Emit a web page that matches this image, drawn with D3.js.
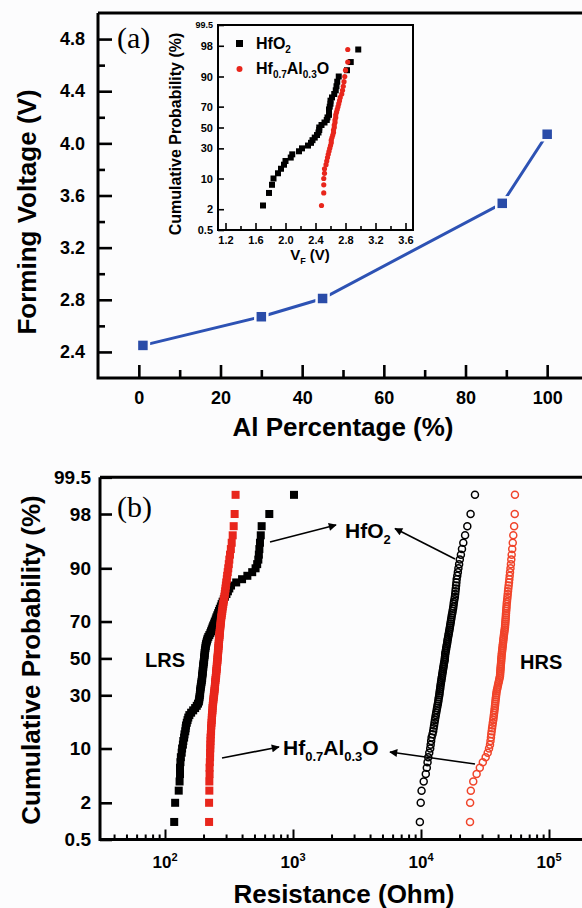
<!DOCTYPE html>
<html>
<head>
<meta charset="utf-8">
<script src="https://cdn.jsdelivr.net/npm/d3@7"></script>
<style>
body { margin: 0; background: #fcfcfd; }
svg { display: block; font-family: "Liberation Sans", Arial, sans-serif; font-weight: bold; }
</style>
</head>
<body>
<svg id="fig" width="582" height="908"></svg>
<script>
// ---- panel (a): forming voltage vs Al percentage
const alPercent = [1, 30, 45, 89, 100];
const formingVoltage = [2.45, 2.67, 2.81, 3.54, 4.07];

// ---- inset: forming voltage distributions (V)
const insetHfO2 = [1.70, 1.78, 1.82, 1.84, 1.90, 1.94, 1.98, 2.00, 2.07, 2.09,
  2.18, 2.22, 2.30, 2.34, 2.36, 2.39, 2.42, 2.44, 2.45, 2.45,
  2.48, 2.52, 2.55, 2.56, 2.58, 2.58, 2.58, 2.59, 2.60, 2.60,
  2.62, 2.65, 2.67, 2.68, 2.69, 2.71, 2.82, 2.87, 2.97];
const insetHfAlO = [2.48, 2.51, 2.51, 2.51, 2.52, 2.52, 2.54, 2.55, 2.56, 2.57,
  2.58, 2.59, 2.60, 2.61, 2.61, 2.62, 2.63, 2.64, 2.64, 2.65,
  2.65, 2.66, 2.66, 2.67, 2.67, 2.68, 2.69, 2.70, 2.71, 2.72,
  2.73, 2.75, 2.76, 2.77, 2.78, 2.79, 2.80, 2.83, 2.83];

// ---- panel (b): resistance distributions (Ohm)
const lrsHfO2 = [118, 120, 128, 130, 131, 131, 132, 133, 135, 136,
  138, 139, 141, 142, 144, 145, 146, 148, 150, 152,
  155, 160, 166, 172, 177, 181, 184, 185, 186, 187,
  188, 188, 189, 190, 191, 192, 193, 194, 195, 195,
  196, 197, 197, 198, 199, 199, 200, 201, 202, 202,
  203, 204, 204, 205, 206, 207, 208, 209, 211, 213,
  215, 218, 222, 226, 229, 232, 235, 238, 242, 245,
  249, 252, 256, 260, 264, 268, 273, 277, 282, 288,
  294, 302, 310, 318, 328, 360, 400, 440, 480, 510,
  525, 536, 541, 546, 552, 560, 569, 653, 1018];
const lrsHfAlO = [221, 221, 222, 222, 223, 223, 224, 225, 225, 226,
  226, 227, 227, 228, 229, 229, 230, 231, 232, 232,
  233, 234, 235, 235, 236, 237, 238, 239, 240, 241,
  242, 243, 244, 245, 246, 246, 247, 248, 249, 250,
  251, 251, 252, 253, 254, 254, 255, 256, 257, 257,
  258, 259, 259, 260, 261, 261, 262, 263, 263, 264,
  265, 266, 267, 267, 268, 269, 270, 271, 272, 273,
  274, 275, 277, 278, 280, 281, 283, 285, 287, 289,
  291, 293, 295, 297, 299, 301, 304, 306, 309, 312,
  315, 318, 322, 327, 332, 338, 344, 350, 356];
const hrsHfO2 = [9800, 9950, 10100, 10500, 10900, 11100, 11250, 11400, 11600, 11800,
  11900, 12000, 12100, 12300, 12450, 12550, 12650, 12750, 12850, 12950,
  13050, 13150, 13250, 13350, 13450, 13550, 13650, 13700, 13800, 13900,
  13950, 14000, 14100, 14150, 14200, 14300, 14350, 14450, 14500, 14600,
  14650, 14750, 14800, 14900, 14950, 15050, 15100, 15200, 15300, 15350,
  15400, 15450, 15500, 15600, 15700, 15750, 15850, 15950, 16050, 16100,
  16200, 16300, 16400, 16500, 16600, 16700, 16800, 16900, 17000, 17100,
  17200, 17300, 17400, 17550, 17650, 17800, 17900, 18000, 18100, 18250,
  18400, 18500, 18600, 18700, 18800, 18900, 19000, 19200, 19400, 19600,
  19850, 20100, 20500, 20900, 21400, 22100, 23000, 24400, 26400];
const hrsHfAlO = [24150, 24200, 24500, 25600, 27200, 28800, 30400, 32000, 33200, 34000,
  34600, 34900, 35200, 35400, 35650, 35900, 36150, 36400, 36700, 36900,
  37100, 37300, 37500, 37700, 37850, 38000, 38150, 38300, 38500, 38650,
  38800, 39000, 39300, 39600, 39900, 40200, 40500, 40800, 41100, 41400,
  41500, 41600, 41700, 41800, 41900, 42000, 42150, 42250, 42350, 42450,
  42550, 42700, 42850, 43000, 43150, 43300, 43450, 43600, 43800, 43950,
  44100, 44250, 44450, 44650, 44850, 45050, 45300, 45400, 45550, 45650,
  45800, 45900, 46050, 46150, 46300, 46450, 46600, 46740, 46950, 47150,
  47400, 47600, 47850, 48100, 48400, 48700, 49000, 49300, 49600, 50000,
  50400, 50750, 51100, 51600, 52100, 52600, 53400, 54000, 54200];

// tick labels
const voltTicks = [2.4, 2.8, 3.2, 3.6, 4.0, 4.4, 4.8];
const alTicks = [0, 20, 40, 60, 80, 100];
const probTicks = [0.5, 2, 10, 30, 50, 70, 90, 98, 99.5];
const vfTicks = [1.2, 1.6, 2.0, 2.4, 2.8, 3.2, 3.6];
const decadeTicks = [1e2, 1e3, 1e4, 1e5];

const RED = "#e8261c", BLUE = "#2d52b4";

// inverse normal cdf (Acklam), used for the probability axes
function probit(p) {
  const a = [-3.969683028665376e+01, 2.209460984245205e+02, -2.759285104469687e+02, 1.383577518672690e+02, -3.066479806614716e+01, 2.506628277459239e+00];
  const b = [-5.447609879822406e+01, 1.615858368580409e+02, -1.556989798598866e+02, 6.680131188771972e+01, -1.328068155288572e+01];
  const c = [-7.784894002430293e-03, -3.223964580411365e-01, -2.400758277161838e+00, -2.549732539343734e+00, 4.374664141464968e+00, 2.938163982698783e+00];
  const d = [7.784695709041462e-03, 3.224671290700398e-01, 2.445134137142996e+00, 3.754408661907416e+00];
  let q, r;
  if (p < 0.02425) {
    q = Math.sqrt(-2 * Math.log(p));
    return (((((c[0]*q+c[1])*q+c[2])*q+c[3])*q+c[4])*q+c[5]) / ((((d[0]*q+d[1])*q+d[2])*q+d[3])*q+1);
  }
  if (p > 1 - 0.02425) {
    q = Math.sqrt(-2 * Math.log(1 - p));
    return -(((((c[0]*q+c[1])*q+c[2])*q+c[3])*q+c[4])*q+c[5]) / ((((d[0]*q+d[1])*q+d[2])*q+d[3])*q+1);
  }
  q = p - 0.5; r = q * q;
  return (((((a[0]*r+a[1])*r+a[2])*r+a[3])*r+a[4])*r+a[5])*q / (((((b[0]*r+b[1])*r+b[2])*r+b[3])*r+b[4])*r+1);
}
const zMax = probit(0.995);

// rank -> cumulative probability pairs
function cumulative(values) {
  return values.map((v, i) => ({ v: v, z: probit((i + 1) / (values.length + 1)) }));
}

function cleanAxis(g, fontSize, width) {
  g.attr("font-family", null).attr("font-size", null);
  g.select(".domain").remove();
  g.selectAll(".tick line").attr("stroke", "#000").attr("stroke-width", width);
  g.selectAll(".tick text").attr("fill", "#000").attr("font-size", fontSize);
}

const svg = d3.select("#fig");
svg.append("rect").attr("width", 582).attr("height", 908).attr("fill", "#fcfcfd");

// ================= panel (a) =================
const xA = d3.scaleLinear().domain([-10, 110]).range([98, 588]);
const yA = d3.scaleLinear().domain([2.2, 5.0]).range([378, 13]);
const gA = svg.append("g");

gA.append("g").attr("transform", "translate(0,378)")
  .call(d3.axisBottom(xA).tickValues([10, 30, 50, 70, 90]).tickSize(-8).tickFormat(""))
  .call(g => cleanAxis(g, 18, 2.6));
gA.append("g").attr("transform", "translate(0,378)")
  .call(d3.axisBottom(xA).tickValues(alTicks).tickSize(-13).tickPadding(13).tickFormat(d3.format("d")))
  .call(g => cleanAxis(g, 18, 2.6));
gA.append("g").attr("transform", "translate(98,0)")
  .call(d3.axisLeft(yA).tickValues([2.6, 3.0, 3.4, 3.8, 4.2, 4.6]).tickSize(-7).tickFormat(""))
  .call(g => cleanAxis(g, 18, 2.6));
gA.append("g").attr("transform", "translate(98,0)")
  .call(d3.axisLeft(yA).tickValues(voltTicks).tickSize(-14).tickPadding(13).tickFormat(d3.format(".1f")))
  .call(g => cleanAxis(g, 18, 2.6));

gA.append("path").attr("d", "M98,13H590M98,13V378H590")
  .attr("fill", "none").attr("stroke", "#000").attr("stroke-width", 3);

const lineA = d3.line().x(d => xA(d[0])).y(d => yA(d[1]));
gA.append("path").datum(d3.zip(alPercent, formingVoltage))
  .attr("d", lineA).attr("fill", "none").attr("stroke", BLUE).attr("stroke-width", 3);
gA.selectAll(".pa").data(d3.zip(alPercent, formingVoltage)).join("rect")
  .attr("x", d => xA(d[0]) - 6).attr("y", d => yA(d[1]) - 6)
  .attr("width", 12).attr("height", 12)
  .attr("fill", "#2a4ca8").attr("stroke", "#fcfcfd").attr("stroke-width", 2.5);

gA.append("text").attr("x", 343).attr("y", 436).attr("text-anchor", "middle")
  .attr("font-size", 26).text("Al Percentage (%)");
gA.append("text").attr("transform", "translate(36,212) rotate(-90)").attr("text-anchor", "middle")
  .attr("font-size", 26).text("Forming Voltage (V)");
gA.append("text").attr("x", 117).attr("y", 48).attr("font-size", 30)
  .attr("font-family", "'Liberation Serif', 'Times New Roman', serif").attr("font-weight", "normal")
  .text("(a)");

// ================= inset =================
const xI = d3.scaleLinear().domain([1.1, 3.7]).range([218, 413]);
const yI = d3.scaleLinear().domain([-zMax, zMax]).range([230, 25]);
const gI = svg.append("g");

gI.append("g").attr("transform", "translate(0,230)")
  .call(d3.axisBottom(xI).tickValues([1.4, 1.8, 2.2, 2.6, 3.0, 3.4]).tickSize(-4).tickFormat(""))
  .call(g => cleanAxis(g, 11, 1.6));
gI.append("g").attr("transform", "translate(0,230)")
  .call(d3.axisBottom(xI).tickValues(vfTicks).tickSize(-7).tickPadding(6).tickFormat(d3.format(".1f")))
  .call(g => cleanAxis(g, 11, 1.6));
gI.append("g").attr("transform", "translate(218,0)")
  .call(d3.axisLeft(yI).tickValues(probTicks.map(p => probit(p / 100)))
    .tickSize(-6).tickPadding(5).tickFormat((d, i) => probTicks[i]))
  .call(g => cleanAxis(g, 11, 1.6))
  .call(g => g.selectAll(".tick text").filter((d, i) => probTicks[i] === 99.5).attr("font-size", 9));

gI.append("rect").attr("x", 218).attr("y", 25).attr("width", 195).attr("height", 205)
  .attr("fill", "none").attr("stroke", "#000").attr("stroke-width", 2);

gI.selectAll(".ih").data(cumulative(insetHfO2)).join("rect")
  .attr("x", d => xI(d.v) - 3).attr("y", d => yI(d.z) - 3)
  .attr("width", 6).attr("height", 6).attr("fill", "#000");
gI.selectAll(".ir").data(cumulative(insetHfAlO)).join("circle")
  .attr("cx", d => xI(d.v)).attr("cy", d => yI(d.z)).attr("r", 2.6).attr("fill", RED);

// legend
gI.append("rect").attr("x", 236).attr("y", 40).attr("width", 7).attr("height", 7).attr("fill", "#000");
const l1 = gI.append("text").attr("x", 256).attr("y", 49).attr("font-size", 16);
l1.append("tspan").text("HfO");
l1.append("tspan").attr("font-size", 10).attr("dy", 4).text("2");
gI.append("circle").attr("cx", 239.5).attr("cy", 69).attr("r", 3).attr("fill", RED);
const l2 = gI.append("text").attr("x", 256).attr("y", 74).attr("font-size", 16);
l2.append("tspan").text("Hf");
l2.append("tspan").attr("font-size", 10).attr("dy", 4).text("0.7");
l2.append("tspan").attr("dy", -4).text("Al");
l2.append("tspan").attr("font-size", 10).attr("dy", 4).text("0.3");
l2.append("tspan").attr("dy", -4).text("O");

gI.append("text").attr("transform", "translate(181,134) rotate(-90)").attr("text-anchor", "middle")
  .attr("font-size", 16).text("Cumulative Probability (%)");
const vf = gI.append("text").attr("x", 310).attr("y", 260).attr("text-anchor", "middle").attr("font-size", 15);
vf.append("tspan").text("V");
vf.append("tspan").attr("font-size", 9).attr("dy", 4).text("F");
vf.append("tspan").attr("dy", -4).text(" (V)");

// ================= panel (b) =================
const xB0 = d3.scaleLog().domain([1e2, 1e5]).range([165, 549]);
const xB = d3.scaleLog().domain([xB0.invert(100), xB0.invert(590)]).range([100, 590]);
const yB = d3.scaleLinear().domain([-zMax, zMax]).range([839.5, 477.3]);
const gB = svg.append("g");

const minorB = [];
for (let e = 1; e <= 5; e++) {
  for (let m = 2; m <= 9; m++) {
    const v = m * Math.pow(10, e);
    if (xB(v) > 103 && xB(v) < 582) minorB.push(v);
  }
}
gB.append("g").attr("transform", "translate(0,839.5)")
  .call(d3.axisBottom(xB).tickValues(minorB).tickSize(-5).tickFormat(""))
  .call(g => cleanAxis(g, 17, 2));
gB.append("g").attr("transform", "translate(0,839.5)")
  .call(d3.axisBottom(xB).tickValues(decadeTicks).tickSize(-10).tickFormat(""))
  .call(g => cleanAxis(g, 17, 2));
gB.selectAll(".dl").data(decadeTicks).join("text")
  .attr("x", d => xB(d)).attr("y", 868).attr("text-anchor", "middle").attr("font-size", 17)
  .each(function (d) {
    const t = d3.select(this);
    t.append("tspan").text("10");
    t.append("tspan").attr("font-size", 11).attr("dy", -7).text(Math.round(Math.log10(d)));
  });
gB.append("g").attr("transform", "translate(100,0)")
  .call(d3.axisLeft(yB).tickValues(probTicks.map(p => probit(p / 100)))
    .tickSize(-12).tickPadding(9).tickFormat((d, i) => probTicks[i]))
  .call(g => cleanAxis(g, 19, 2.6));

gB.append("path").attr("d", "M100,477.3H590M100,477.3V839.5H590")
  .attr("fill", "none").attr("stroke", "#000").attr("stroke-width", 3);

gB.selectAll(".lb").data(cumulative(lrsHfO2)).join("rect")
  .attr("x", d => xB(d.v) - 4).attr("y", d => yB(d.z) - 4)
  .attr("width", 8).attr("height", 8).attr("fill", "#000");
gB.selectAll(".lr").data(cumulative(lrsHfAlO)).join("rect")
  .attr("x", d => xB(d.v) - 4).attr("y", d => yB(d.z) - 4)
  .attr("width", 8).attr("height", 8).attr("fill", RED);
gB.selectAll(".hb").data(cumulative(hrsHfO2)).join("circle")
  .attr("cx", d => xB(d.v)).attr("cy", d => yB(d.z)).attr("r", 3.5)
  .attr("fill", "none").attr("stroke", "#000").attr("stroke-width", 1.5);
gB.selectAll(".hr").data(cumulative(hrsHfAlO)).join("circle")
  .attr("cx", d => xB(d.v)).attr("cy", d => yB(d.z)).attr("r", 3.5)
  .attr("fill", "none").attr("stroke", "#f0442a").attr("stroke-width", 1.5);

// annotations
svg.append("defs").append("marker").attr("id", "ah")
  .attr("viewBox", "0 0 10 10").attr("refX", 9).attr("refY", 5)
  .attr("markerWidth", 10).attr("markerHeight", 8).attr("markerUnits", "userSpaceOnUse")
  .attr("orient", "auto")
  .append("path").attr("d", "M0,0L10,5L0,10z").attr("fill", "#000");
const arrows = [[270, 542, 336, 525], [455, 559, 395, 528.5], [222, 758, 279, 747], [475, 764, 390, 752]];
gB.selectAll(".ar").data(arrows).join("line")
  .attr("x1", d => d[0]).attr("y1", d => d[1]).attr("x2", d => d[2]).attr("y2", d => d[3])
  .attr("stroke", "#000").attr("stroke-width", 1.6).attr("marker-end", "url(#ah)");

const t1 = gB.append("text").attr("x", 345).attr("y", 538).attr("font-size", 21);
t1.append("tspan").text("HfO");
t1.append("tspan").attr("font-size", 13).attr("dy", 6).text("2");
const t2 = gB.append("text").attr("x", 283).attr("y", 755).attr("font-size", 21);
t2.append("tspan").text("Hf");
t2.append("tspan").attr("font-size", 13).attr("dy", 6).text("0.7");
t2.append("tspan").attr("dy", -6).text("Al");
t2.append("tspan").attr("font-size", 13).attr("dy", 6).text("0.3");
t2.append("tspan").attr("dy", -6).text("O");
gB.append("text").attr("x", 145).attr("y", 667).attr("font-size", 20).text("LRS");
gB.append("text").attr("x", 520).attr("y", 669).attr("font-size", 20).text("HRS");

gB.append("text").attr("x", 344).attr("y", 903).attr("text-anchor", "middle")
  .attr("font-size", 26).text("Resistance (Ohm)");
gB.append("text").attr("transform", "translate(40,660) rotate(-90)").attr("text-anchor", "middle")
  .attr("font-size", 26).text("Cumulative Probability (%)");
gB.append("text").attr("x", 117).attr("y", 517).attr("font-size", 30)
  .attr("font-family", "'Liberation Serif', 'Times New Roman', serif").attr("font-weight", "normal")
  .text("(b)");
</script>
</body>
</html>
